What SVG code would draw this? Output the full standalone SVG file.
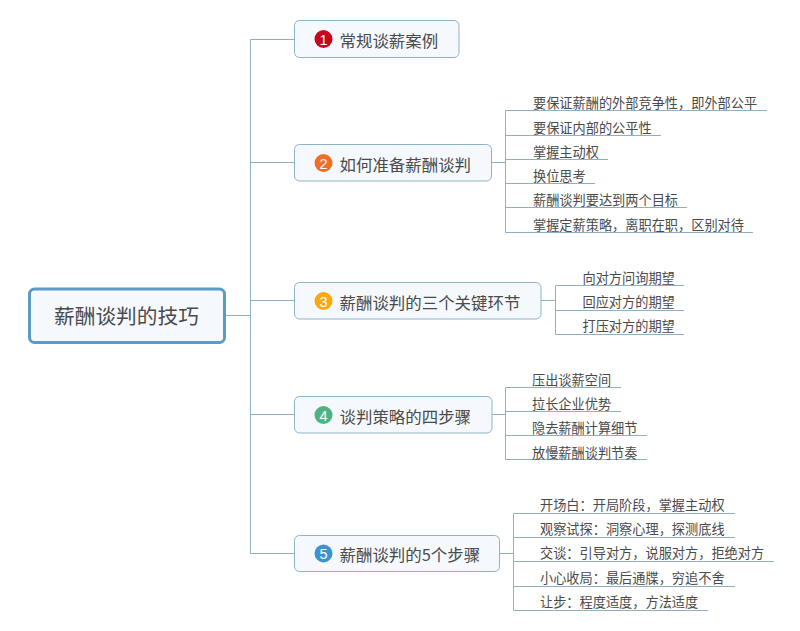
<svg xmlns="http://www.w3.org/2000/svg" width="800" height="631" viewBox="0 0 800 631">
<style>
text{font-family:"Noto Sans CJK SC","Noto Sans",sans-serif;fill:#4a4a4a}
.root{fill:#f5f9fd;stroke:#5b9bc6;stroke-width:3}
.topic{fill:#f5f9fd;stroke:#8fb3c6;stroke-width:1}
.t{font-size:16.45px}
.s{font-size:13.2px}
.n{font-family:"Liberation Sans",sans-serif;font-size:14.5px;fill:#fff;text-anchor:middle}
#connectors path{fill:none;stroke:#8fb0c2;stroke-width:1}
</style>
<rect width="800" height="631" fill="#fff"/>
<g id="connectors">
<path d="M226 315.500H250.500M294 39.500H250.500V553.500H294M250.500 162.500H294M250.500 300.500H294M250.500 414.500H294"/>
<path d="M492 162.500H505.500M505.500 110.500V232.500M505.500 110.500H767M505.500 135.500H661M505.500 159.500H608M505.500 183.500H595M505.500 207.500H687M505.500 232.500H753"/>
<path d="M541 300.500H555.500M555.500 285.500V334.500M555.500 285.500H684M555.500 310.500H684M555.500 334.500H684"/>
<path d="M492 414.500H505.500M505.500 387.500V459.500M505.500 387.500H621M505.500 411.500H621M505.500 435.500H647M505.500 459.500H647"/>
<path d="M500 553.500H513.500M513.500 513.500V610.500M513.500 513.500H735M513.500 537.500H735M513.500 561.500H774M513.500 586.500H735M513.500 610.500H708"/>
</g>
<g id="root"><rect class="root" x="29.500" y="289" width="195" height="53.500" rx="5"/><text x="54" y="324" font-size="20.700">薪酬谈判的技巧</text></g>
<g id="topic1"><rect class="topic" x="294.500" y="20.500" width="164.500" height="37" rx="5"/><circle cx="323.500" cy="39" r="9" fill="#c8071e"/><text class="n" x="323.500" y="44.500">1</text><text class="t" x="339.500" y="46.500">常规谈薪案例</text></g>
<g id="topic2"><rect class="topic" x="294.500" y="144.500" width="197" height="36.500" rx="5"/><circle cx="323.500" cy="163" r="9" fill="#ef6f27"/><text class="n" x="323.500" y="168.500">2</text><text class="t" x="339.500" y="170.500">如何准备薪酬谈判</text>
<text class="s" x="533" y="108">要保证薪酬的外部竞争性，即外部公平</text><text class="s" x="533" y="132.500">要保证内部的公平性</text><text class="s" x="533" y="157">掌握主动权</text><text class="s" x="533" y="181">换位思考</text><text class="s" x="533" y="205">薪酬谈判要达到两个目标</text><text class="s" x="533" y="230">掌握定薪策略，离职在职，区别对待</text></g>
<g id="topic3"><rect class="topic" x="294.500" y="282.500" width="246.500" height="36.500" rx="5"/><circle cx="323.500" cy="301" r="9" fill="#f8a90f"/><text class="n" x="323.500" y="306.500">3</text><text class="t" x="339.500" y="308.500">薪酬谈判的三个关键环节</text>
<text class="s" x="582.500" y="282.500">向对方问询期望</text><text class="s" x="582.500" y="306.500">回应对方的期望</text><text class="s" x="582.500" y="331">打压对方的期望</text></g>
<g id="topic4"><rect class="topic" x="294.500" y="396.500" width="197.500" height="36.500" rx="5"/><circle cx="323.500" cy="415" r="9" fill="#4fb27f"/><text class="n" x="323.500" y="420.500">4</text><text class="t" x="339.500" y="422.500">谈判策略的四步骤</text>
<text class="s" x="532" y="385">压出谈薪空间</text><text class="s" x="532" y="409">拉长企业优势</text><text class="s" x="532" y="433">隐去薪酬计算细节</text><text class="s" x="532" y="457.500">放慢薪酬谈判节奏</text></g>
<g id="topic5"><rect class="topic" x="294.500" y="535.500" width="205" height="36" rx="5"/><circle cx="323.500" cy="553.500" r="9" fill="#3b93d2"/><text class="n" x="323.500" y="559">5</text><text class="t" x="339.500" y="561">薪酬谈判的5个步骤</text>
<text class="s" x="540" y="510">开场白：开局阶段，掌握主动权</text><text class="s" x="540" y="534">观察试探：洞察心理，探测底线</text><text class="s" x="540" y="558">交谈：引导对方，说服对方，拒绝对方</text><text class="s" x="540" y="583">小心收局：最后通牒，穷追不舍</text><text class="s" x="540" y="607">让步：程度适度，方法适度</text></g>
</svg>
